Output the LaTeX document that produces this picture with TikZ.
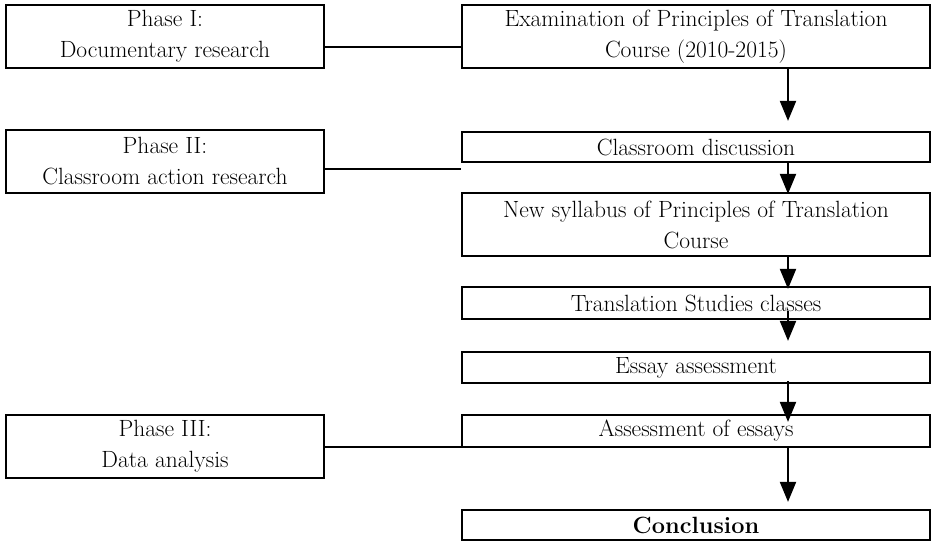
\documentclass[tikz,border=0pt]{standalone}
\usetikzlibrary{arrows.meta}
\begin{document}
\begin{tikzpicture}[x=1pt,y=-1pt,
  box/.style={draw, line width=2.2pt, inner sep=0pt, align=center, font=\fontsize{23.5}{31}\selectfont},
  phasebox/.style={box, minimum width=318pt, minimum height=63pt},
  mainbox/.style={box, minimum width=468pt},
  link/.style={line width=2pt},
  arr/.style={line width=2pt, -{Triangle[length=20pt,width=16pt]}}]
\useasboundingbox (0,0) rectangle (932,542);
\node[phasebox] (p1) at (165,36.5) {Phase I:\\Documentary research};
\node[phasebox] (p2) at (165,161.5) {Phase II:\\Classroom action research};
\node[phasebox] (p3) at (165,446.5) {Phase III:\\Data analysis};
\node[mainbox, minimum height=63pt] (b1) at (696,36.5) {Examination of Principles of Translation\\Course (2010-2015)};
\node[mainbox, minimum height=30pt] (b2) at (696,147) {Classroom discussion};
\node[mainbox, minimum height=63pt] (b3) at (696,224.5) {New syllabus of Principles of Translation\\Course};
\node[mainbox, minimum height=32pt] (b4) at (696,303) {Translation Studies classes};
\node[mainbox, minimum height=31pt] (b5) at (696,367.5) {Essay assessment};
\node[mainbox, minimum height=32pt] (b6) at (696,431) {Assessment of essays};
\node[mainbox, minimum height=30pt] (b7) at (696,525) {\textbf{Conclusion}};
\draw[link] ([yshift=-10.5pt]p1.east) -- ([yshift=-10.5pt]p1.east -| b1.west);
\draw[link] ([yshift=-7.5pt]p2.east) -- ([yshift=-7.5pt]p2.east -| b3.west);
\draw[link] (p3.east) -- (p3.east -| b6.west);
\draw[arr] ([xshift=92pt]b1.south) -- ([xshift=92pt,yshift=10pt]b2.north);
\draw[arr] ([xshift=92pt]b2.south) -- ([xshift=92pt,yshift=-2pt]b3.north);
\draw[arr] ([xshift=92pt]b3.south) -- ([xshift=92pt,yshift=-3pt]b4.north);
\draw[arr] ([xshift=92pt,yshift=9pt]b4.south) -- ([xshift=92pt,yshift=10pt]b5.north);
\draw[arr] ([xshift=92pt,yshift=3pt]b5.south) -- ([xshift=92pt,yshift=-8pt]b6.north);
\draw[arr] ([xshift=92pt]b6.south) -- ([xshift=92pt,yshift=7pt]b7.north);
\end{tikzpicture}
\end{document}
